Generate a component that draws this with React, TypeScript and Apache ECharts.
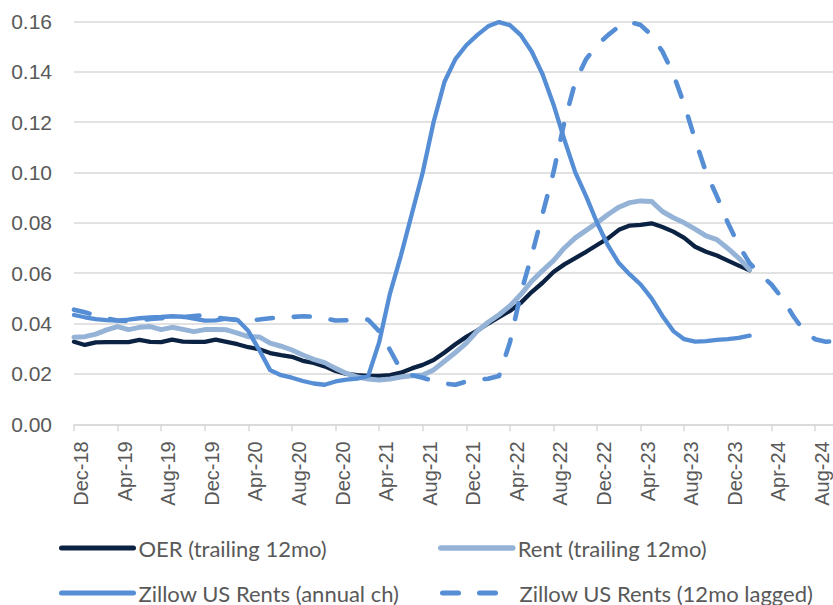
import React, { useEffect, useRef } from "react";
import * as echarts from "echarts";

// Monthly categories Dec-18 .. Oct-24
const MONTH_NAMES = ["Jan", "Feb", "Mar", "Apr", "May", "Jun", "Jul", "Aug", "Sep", "Oct", "Nov", "Dec"];
const months: string[] = [];
for (let k = 0; k < 71; k++) {
  const m = (11 + k) % 12;
  const y = 18 + Math.floor((11 + k) / 12);
  months.push(`${MONTH_NAMES[m]}-${y}`);
}

const yTicks = [0, 0.02, 0.04, 0.06, 0.08, 0.1, 0.12, 0.14, 0.16];

// OER (trailing 12mo), Dec-18 .. Feb-24
const oer = [
  0.0328, 0.0315, 0.0325, 0.0326, 0.0326, 0.0326, 0.0335, 0.0327, 0.0326, 0.0336,
  0.0328, 0.0327, 0.0327, 0.0336, 0.0327, 0.0318, 0.0306, 0.0298, 0.0283, 0.0275,
  0.0268, 0.0252, 0.0244, 0.0230, 0.0212, 0.0200, 0.0195, 0.0192, 0.0192, 0.0195,
  0.0205, 0.0222, 0.0236, 0.0255, 0.0285, 0.0318, 0.0347, 0.0372, 0.0400, 0.0425,
  0.0450, 0.0482, 0.0525, 0.0562, 0.0605, 0.0635, 0.0660, 0.0685, 0.0712, 0.0738,
  0.0772, 0.0789, 0.0792, 0.0798, 0.0783, 0.0765, 0.0740, 0.0705, 0.0685, 0.0670,
  0.0650, 0.0630, 0.0612,
];

// Rent (trailing 12mo), Dec-18 .. Feb-24
const rent = [
  0.0346, 0.0348, 0.0358, 0.0375, 0.0388, 0.0376, 0.0385, 0.0388, 0.0376, 0.0385,
  0.0377, 0.0368, 0.0376, 0.0376, 0.0375, 0.0362, 0.0348, 0.0347, 0.0322, 0.0310,
  0.0295, 0.0275, 0.0258, 0.0245, 0.0222, 0.0202, 0.0188, 0.0180, 0.0176, 0.0180,
  0.0188, 0.0193, 0.0196, 0.0216, 0.0250, 0.0285, 0.0322, 0.0370, 0.0405, 0.0435,
  0.0470, 0.0515, 0.0568, 0.0610, 0.0650, 0.0700, 0.0740, 0.0770, 0.0800, 0.0833,
  0.0862, 0.0880, 0.0887, 0.0885, 0.0845, 0.0820, 0.0800, 0.0775, 0.0748, 0.0733,
  0.0698, 0.0660, 0.0615,
];

// Zillow US Rents (annual ch), Dec-18 .. Feb-24
const zillow = [
  0.0434, 0.0425, 0.0418, 0.0414, 0.0412, 0.0416, 0.0421, 0.0424, 0.0426, 0.0429,
  0.0427, 0.0420, 0.0412, 0.0413, 0.0420, 0.0415, 0.0370, 0.0295, 0.0215, 0.0195,
  0.0185, 0.0172, 0.0162, 0.0157, 0.0170, 0.0177, 0.0181, 0.0192, 0.0325, 0.0520,
  0.0670, 0.0835, 0.1000, 0.1200, 0.1360, 0.1450, 0.1505, 0.1545, 0.1580, 0.1597,
  0.1585, 0.1545, 0.1480, 0.1390, 0.1270, 0.1130, 0.1000, 0.0905, 0.0800, 0.0710,
  0.0640, 0.0595, 0.0555, 0.0500, 0.0430, 0.0370, 0.0338, 0.0328, 0.0330, 0.0335,
  0.0338, 0.0343, 0.0352,
];

// Zillow values Dec-17 .. Nov-18 (start of the 12-month lagged line)
const zillowPrior = [
  0.0455, 0.0445, 0.0432, 0.0420, 0.0412, 0.0410, 0.0413, 0.0418, 0.0421, 0.0424,
  0.0426, 0.0430,
];

const zillowLagged = [...zillowPrior, ...zillow].slice(0, months.length);

const NAMES = [
  "OER (trailing 12mo)",
  "Rent (trailing 12mo)",
  "Zillow US Rents (annual ch)",
  "Zillow US Rents (12mo lagged)",
];

export default function App() {
  const ref = useRef<HTMLDivElement>(null);

  useEffect(() => {
    if (!ref.current) return;
    const chart = echarts.init(ref.current, undefined, { renderer: "svg" });

    const legendCommon = {
      orient: "horizontal",
      padding: 0,
      itemWidth: 72,
      itemHeight: 10,
      selectedMode: false,
      itemStyle: { opacity: 0 },
      textStyle: { fontFamily: "Lato", fontSize: 22, color: "#595959", lineHeight: 20 },
    };

    chart.setOption({
      animation: false,
      backgroundColor: "#ffffff",
      grid: {
        left: 74,
        top: 21.3,
        width: 762.8,
        height: 403,
        outerBoundsMode: "none",
        containLabel: false,
      },
      legend: [
        { ...legendCommon, data: [NAMES[0]], left: 59, top: 537, lineStyle: { width: 5, cap: "round" } },
        { ...legendCommon, data: [NAMES[1]], left: 438, top: 537, lineStyle: { width: 5.5, cap: "round" } },
        { ...legendCommon, data: [NAMES[2]], left: 59, top: 582, lineStyle: { width: 5, cap: "round" } },
        {
          ...legendCommon,
          data: [NAMES[3]],
          left: 440,
          top: 582,
          lineStyle: { width: 5, cap: "round", type: [16, 21] },
        },
      ],
      xAxis: {
        type: "category",
        data: months,
        boundaryGap: false,
        axisLine: { show: true, lineStyle: { color: "#d9d9d9", width: 1.5 } },
        axisTick: { show: true, interval: 3, length: 7, lineStyle: { color: "#d9d9d9", width: 1.5 } },
        axisLabel: {
          interval: 3,
          rotate: 90,
          margin: 17,
          verticalAlign: "top",
          lineHeight: 14,
          fontFamily: "Liberation Sans",
          fontSize: 20,
          color: "#595959",
        },
        splitLine: { show: false },
      },
      yAxis: {
        type: "value",
        min: yTicks[0],
        max: yTicks[yTicks.length - 1],
        interval: 0.02,
        axisLine: { show: false },
        axisTick: { show: false },
        axisLabel: {
          margin: 22,
          fontFamily: "Liberation Sans",
          fontSize: 21,
          color: "#595959",
          formatter: (v: number) => v.toFixed(2),
        },
        splitLine: { show: true, lineStyle: { color: "#d9d9d9", width: 1.5 } },
      },
      series: [
        {
          name: NAMES[0],
          type: "line",
          data: oer,
          symbol: "none",
          lineStyle: { color: "#0b2242", width: 4.3, cap: "round", join: "round" },
          itemStyle: { color: "#0b2242" },
        },
        {
          name: NAMES[1],
          type: "line",
          data: rent,
          symbol: "none",
          lineStyle: { color: "#95b3d7", width: 5, cap: "round", join: "round" },
          itemStyle: { color: "#95b3d7" },
        },
        {
          name: NAMES[2],
          type: "line",
          data: zillow,
          symbol: "none",
          lineStyle: { color: "#558ed5", width: 4.3, cap: "round", join: "round" },
          itemStyle: { color: "#558ed5" },
        },
        {
          name: NAMES[3],
          type: "line",
          data: zillowLagged,
          symbol: "none",
          lineStyle: { color: "#558ed5", width: 4.6, type: [16, 21], cap: "round", join: "round" },
          itemStyle: { color: "#558ed5" },
        },
      ],
    });

    return () => chart.dispose();
  }, []);

  return (
    <div
      ref={ref}
      style={{ position: "fixed", left: 0, top: 0, width: 833, height: 605 }}
    />
  );
}
